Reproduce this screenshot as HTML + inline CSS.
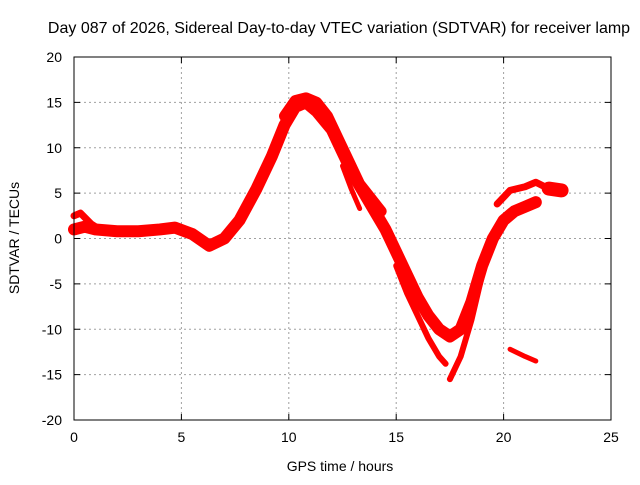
<!DOCTYPE html>
<html><head><meta charset="utf-8"><style>
body{margin:0;background:#fff;font-family:"Liberation Sans",sans-serif;}
svg text{font-family:"Liberation Sans",sans-serif;font-size:14px;fill:#000;}
</style></head><body>
<svg width="640" height="480" xmlns="http://www.w3.org/2000/svg">
<rect width="640" height="480" fill="#fff"/>
<text x="339" y="33" text-anchor="middle" style="font-size:16px">Day 087 of 2026, Sidereal Day-to-day VTEC variation (SDTVAR) for receiver lamp</text>
<g id="grid"></g>
<g id="series"></g>
<rect x="74" y="57" width="537" height="363" fill="none" stroke="#000" stroke-width="1"/>
<g id="axes"></g>
<text x="340" y="471" text-anchor="middle">GPS time / hours</text>
<text transform="translate(19,238) rotate(-90)" text-anchor="middle">SDTVAR / TECUs</text>
</svg>
<script>
const xTicks=[0,5,10,15,20,25];
const yTicks=[-20,-15,-10,-5,0,5,10,15,20];
const mainH=[0,0.5,1,2,3,4,4.7,5.5,6.3,7,7.7,8.5,9.2,9.8,10.3,10.8,11.3,12,12.5,13,13.5,14,14.5,15,15.5,16,16.5,17,17.5,18,18.5,19,19.5,20,20.5,21,21.5];
const mainV=[1,1.3,1,0.8,0.8,1,1.2,0.5,-0.8,0,2,5.5,9,12.5,14.5,15,14,12,9.5,7,5,3,1,-1.5,-4,-6.5,-8.5,-10,-10.8,-10,-7,-3,0,2,3,3.5,4];
const upperH=[9.8,10.3,10.8,11.3,11.8,12.3,12.8,13.3,13.8,14.3];
const upperV=[13.5,15.2,15.5,15,13.5,11,8.5,6,4.5,3];
const branchH=[12.5,12.9,13.3];
const branchV=[8,5.5,3.3];
const startH=[0,0.3,0.8,1.2];
const startV=[2.5,2.8,1.6,1];
const lowH=[15,15.5,16,16.5,17,17.3];
const lowV=[-3,-6,-8.5,-11,-13,-13.8];
const riseH=[17.5,18,18.5,19];
const riseV=[-15.5,-13,-9,-4];
const topH=[19.7,20.3,21,21.5,22,22.8];
const topV=[3.8,5.3,5.7,6.2,5.6,5.3];
const blockH=[22.1,22.7];
const blockV=[5.5,5.3];
const tailH=[20.3,21,21.5];
const tailV=[-12.2,-13,-13.5];
const series=[[mainH,mainV,12,'main-band'],[upperH,upperV,11,'upper-band'],[branchH,branchV,5,'branch'],[startH,startV,7,'start-trace'],[lowH,lowV,6,'low-branch'],[riseH,riseV,6,'rise-branch'],[topH,topV,7,'top-branch'],[blockH,blockV,14,'top-right-block'],[tailH,tailV,5,'tail-segment']];
const xs=h=>74+h*21.48, ys=v=>238.5-v*9.075;
const NS='http://www.w3.org/2000/svg';
const grid=document.getElementById('grid'),axes=document.getElementById('axes'),sg=document.getElementById('series');
function mk(t,a,p){const e=document.createElementNS(NS,t);for(const k in a)e.setAttribute(k,a[k]);p.appendChild(e);return e;}
xTicks.forEach(t=>{const x=xs(t);
 if(t>0&&t<25){const l=mk('line',{x1:x,x2:x,y1:57,y2:420,stroke:'#a0a0a0','stroke-dasharray':'2,3'},grid);}
 mk('line',{x1:x,x2:x,y1:420,y2:414,stroke:'#000'},axes);mk('line',{x1:x,x2:x,y1:57,y2:63,stroke:'#000'},axes);
 const tx=mk('text',{x:x,y:442,'text-anchor':'middle'},axes);tx.textContent=t;});
yTicks.forEach(t=>{const y=ys(t);
 if(t>-20&&t<20){const l=mk('line',{x1:74,x2:611,y1:y,y2:y,stroke:'#a0a0a0','stroke-dasharray':'2,3'},grid);}
 mk('line',{x1:74,x2:80,y1:y,y2:y,stroke:'#000'},axes);mk('line',{x1:605,x2:611,y1:y,y2:y,stroke:'#000'},axes);
 const tx=mk('text',{x:62,y:y+5,'text-anchor':'end'},axes);tx.textContent=t;});
series.forEach(([H,V,w,n])=>{const pts=H.map((h,i)=>xs(h)+','+ys(V[i])).join(' ');
 const p=mk('polyline',{points:pts,fill:'none',stroke:'#ff0000','stroke-width':w,'stroke-linejoin':'round','stroke-linecap':'round'},sg);
 
 });
</script>
</body></html>
